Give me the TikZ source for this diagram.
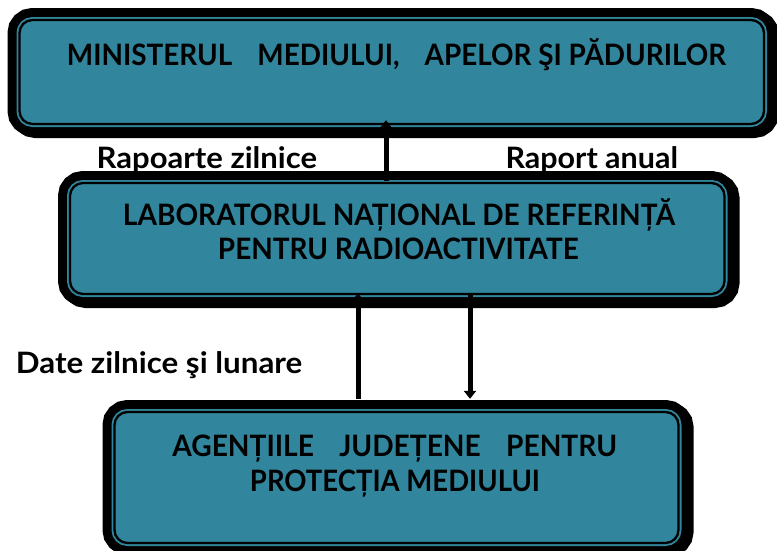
\documentclass[tikz,border=0pt]{standalone}
\usepackage{graphicx}
\usepackage{fontspec}
\setmainfont{Lato}
\usetikzlibrary{arrows.meta}
\definecolor{boxteal}{HTML}{31859C}
\tikzset{
  panel/.style={rectangle, rounded corners=13pt, fill=boxteal, draw=black,
    line width=2.3pt, inner sep=0pt,
    preaction={draw=black, line width=24pt, transform canvas={shift={(3pt,-2pt)}}},
    preaction={draw=black, line width=24pt},
    preaction={draw=boxteal, line width=6pt}},
  lbl/.style={font=\bfseries\fontsize{29.5}{31}\selectfont, inner sep=0pt, anchor=base},
  flow/.style={draw=black, line width=5pt, -{Triangle[length=8pt,width=12pt]}}
}
\begin{document}
\begin{tikzpicture}[x=1pt,y=-1pt]
\useasboundingbox (0,0) rectangle (777,550);
\clip (0,0) rectangle (777,550);
% boxes
\node[panel, minimum width=744.5pt, minimum height=104pt] (min) at (391.75,72) {};
\node[panel, minimum width=654.5pt, minimum height=111pt] (lab) at (397.25,238.5) {};
\node[panel, minimum width=564pt, minimum height=131pt] (agen) at (396.5,477.5) {};
% connectors
\draw[flow] ([xshift=-11.25pt,yshift=1pt]lab.north) -- ([xshift=-5.75pt,yshift=5pt]min.south);
\draw[flow] ([xshift=-38.5pt,yshift=12pt]agen.north) -- ([xshift=-39.25pt,yshift=2pt]lab.south);
\draw[flow] ([xshift=72.75pt,yshift=2pt]lab.south) -- ([xshift=73.5pt,yshift=12pt]agen.north);
% texts in boxes
\node[lbl] (tmin) at (396.5,65) {\resizebox{659pt}{\height}{MINISTERUL\hspace{0.9em}MEDIULUI,\hspace{0.9em}APELOR ŞI PĂDURILOR}};
\node[lbl] (tlab1) at (399,225) {\resizebox{552pt}{\height}{LABORATORUL NAȚIONAL DE REFERINȚĂ}};
\node[lbl] (tlab2) at (398.4,259.3) {\resizebox{360.8pt}{\height}{PENTRU RADIOACTIVITATE}};
\node[lbl] (tag1) at (394.7,456.7) {\resizebox{444.6pt}{\height}{AGENȚIILE\hspace{0.9em}JUDEȚENE\hspace{0.9em}PENTRU}};
\node[lbl] (tag2) at (395,491.7) {\resizebox{290pt}{\height}{PROTECȚIA MEDIULUI}};
% connector labels
\node[lbl] (lrz) at (206.8,168.3) {\resizebox{220.4pt}{\height}{Rapoarte zilnice}};
\node[lbl] (lra) at (591.75,168.3) {\resizebox{172.5pt}{\height}{Raport anual}};
\node[lbl] (ldz) at (159.1,373.3) {\resizebox{286.4pt}{\height}{Date zilnice şi lunare}};
\end{tikzpicture}
\end{document}
